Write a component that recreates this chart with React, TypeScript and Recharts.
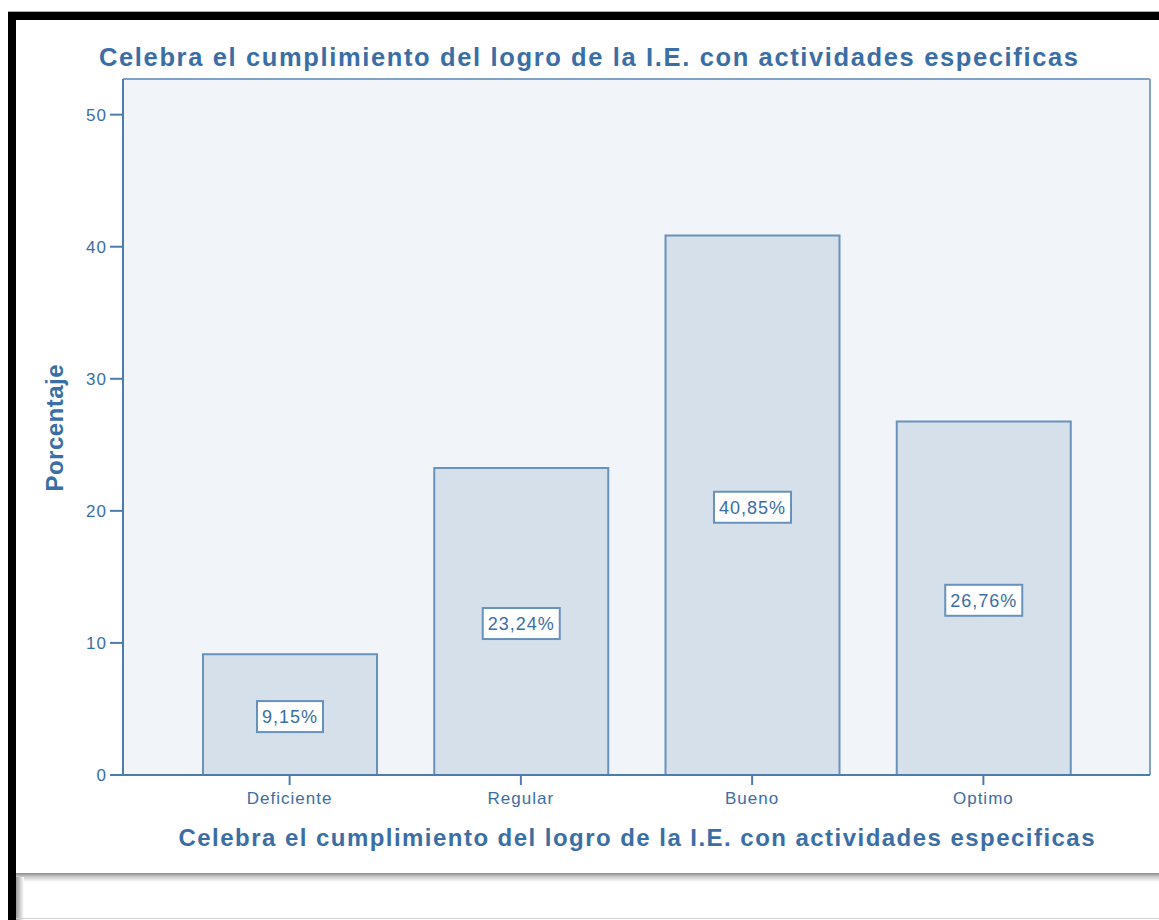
import React from 'react';
import * as R from 'recharts';
import { BarChart, Bar, XAxis, YAxis, CartesianGrid, LabelList } from 'recharts';

const categories = ['Deficiente', 'Regular', 'Bueno', 'Optimo'];
const percentages = [9.15, 23.24, 40.85, 26.76];
const yTicks = [0, 10, 20, 30, 40, 50];
const chartTitle = 'Celebra el cumplimiento del logro de la I.E. con actividades especificas';
const xTitle = 'Celebra el cumplimiento del logro de la I.E. con actividades especificas';
const yTitle = 'Porcentaje';

const data = categories.map((c, i) => ({ name: c, value: percentages[i] }));

const FONT = '"Liberation Sans", Arial, sans-serif';
const TEXT = '#3a6ea5';
const AXIS = '#4d7cac';
const BAR_FILL = '#d6e0eb';
const BAR_STROKE = '#6891bb';
const PLOT_BG = '#f1f5f9';
const BORDER = '#7fa2c6';

const usePlotAreaSafe: () => any = (R as any).usePlotArea ?? (R as any).useOffset ?? (() => null);

const fmt = (v: number) => v.toFixed(2).replace('.', ',') + '%';

const charW: Record<string, number> = { ',': 0.278, '%': 0.889 };
const textWidth = (s: string, size: number, spacing: number) =>
  s.split('').reduce((a, ch) => a + (charW[ch] ?? 0.556), 0) * size + (s.length - 1) * spacing;

const PlotBorder = () => {
  const pa = usePlotAreaSafe();
  if (!pa || pa.width == null) return null;
  const x0 = pa.x ?? pa.left;
  const y0 = pa.y ?? pa.top;
  const x1 = x0 + pa.width;
  const y1 = y0 + pa.height;
  return (
    <g>
      <line x1={x0} y1={y0} x2={x1} y2={y0} stroke={BORDER} strokeWidth={2} />
      <line x1={x1} y1={y0} x2={x1} y2={y1} stroke={BORDER} strokeWidth={2} />
    </g>
  );
};

const BoxLabel = (props: any) => {
  const { x, y, width, height, value } = props;
  const s = fmt(Number(value));
  const tw = textWidth(s, 18, 1);
  const bw = tw + 11;
  const bh = 31;
  const cx = x + width / 2;
  const cy = y + height / 2 + 2;
  return (
    <g>
      <rect x={cx - bw / 2} y={cy - bh / 2} width={bw} height={bh} fill="#ffffff" stroke={BAR_STROKE} strokeWidth={2} />
      <text x={cx} y={cy + 6.5} textAnchor="middle" fontFamily={FONT} fontSize={18} letterSpacing={1} fill={TEXT}>
        {s}
      </text>
    </g>
  );
};

const XTitle = (props: any) => {
  const vb = props.viewBox || { x: 0, y: 0, width: 0, height: 0 };
  return (
    <text
      x={vb.x + vb.width / 2}
      y={vb.y + 71}
      textAnchor="middle"
      fontFamily={FONT}
      fontWeight="bold"
      fontSize={24}
      fill={TEXT}
      textLength={916}
      lengthAdjust="spacing"
    >
      {xTitle}
    </text>
  );
};

const YTitle = (props: any) => {
  const vb = props.viewBox || { x: 0, y: 0, width: 0, height: 0 };
  const cx = vb.x + 63;
  const cy = vb.y + vb.height / 2 + 1;
  return (
    <text
      x={cx}
      y={cy}
      transform={`rotate(-90, ${cx}, ${cy})`}
      textAnchor="middle"
      fontFamily={FONT}
      fontWeight="bold"
      fontSize={24}
      fill={TEXT}
      textLength={127}
      lengthAdjust="spacing"
    >
      {yTitle}
    </text>
  );
};

export default function App() {
  return (
    <div style={{ position: 'absolute', left: 0, top: 0, width: 1159, height: 920, background: '#ffffff', overflow: 'hidden' }}>
      {/* frame */}
      <div style={{ position: 'absolute', left: 8, top: 11, width: 1151, height: 1, background: '#b0b0b0' }} />
      <div style={{ position: 'absolute', left: 8, top: 12, width: 1151, height: 8, background: '#000000' }} />
      <div style={{ position: 'absolute', left: 8, top: 12, width: 8, height: 908, background: '#000000' }} />
      <div style={{ position: 'absolute', left: 16, top: 873, width: 1143, height: 9, background: 'linear-gradient(#8a8a8a, #c8c8c8 40%, #ffffff)' }} />
      <div style={{ position: 'absolute', left: 16, top: 877, width: 8, height: 43, background: 'linear-gradient(to right, #9a9a9a, #ffffff)' }} />
      <div style={{ position: 'absolute', left: 16, top: 918, width: 1143, height: 1, background: '#cfcfcf' }} />

      <svg width={1159} height={80} style={{ position: 'absolute', left: 0, top: 0 }}>
        <text
          x={588.5}
          y={66}
          textAnchor="middle"
          fontFamily={FONT}
          fontWeight="bold"
          fontSize={25.5}
          fill={TEXT}
          textLength={979}
          lengthAdjust="spacing"
        >
          {chartTitle}
        </text>
      </svg>

      <div style={{ position: 'absolute', left: 0, top: 0 }}>
        <BarChart width={1159} height={920} data={data} margin={{ top: 79, right: 9, bottom: 0, left: 0 }}>
          <CartesianGrid horizontal={false} vertical={false} fill={PLOT_BG} />
          <PlotBorder />
          <XAxis
            dataKey="name"
            height={145}
            padding={{ left: 51, right: 51 }}
            tickSize={10}
            tickMargin={7}
            tick={{ fontFamily: FONT, fontSize: 17, fill: TEXT, letterSpacing: 1 } as any}
            tickLine={{ stroke: AXIS, strokeWidth: 2 }}
            axisLine={{ stroke: AXIS, strokeWidth: 2 }}
            label={<XTitle />}
            interval={0}
          />
          <YAxis
            width={123}
            domain={[0, 52.7]}
            ticks={yTicks}
            allowDataOverflow
            tickSize={13}
            tickMargin={3}
            tick={{ fontFamily: FONT, fontSize: 17, fill: TEXT, letterSpacing: 1 } as any}
            tickLine={{ stroke: AXIS, strokeWidth: 2 }}
            axisLine={{ stroke: AXIS, strokeWidth: 2 }}
            label={<YTitle />}
          />
          <Bar
            dataKey="value"
            barSize={174}
            fill={BAR_FILL}
            stroke={BAR_STROKE}
            strokeWidth={2}
            isAnimationActive={false}
          >
            <LabelList dataKey="value" content={<BoxLabel />} />
          </Bar>
        </BarChart>
      </div>
    </div>
  );
}
